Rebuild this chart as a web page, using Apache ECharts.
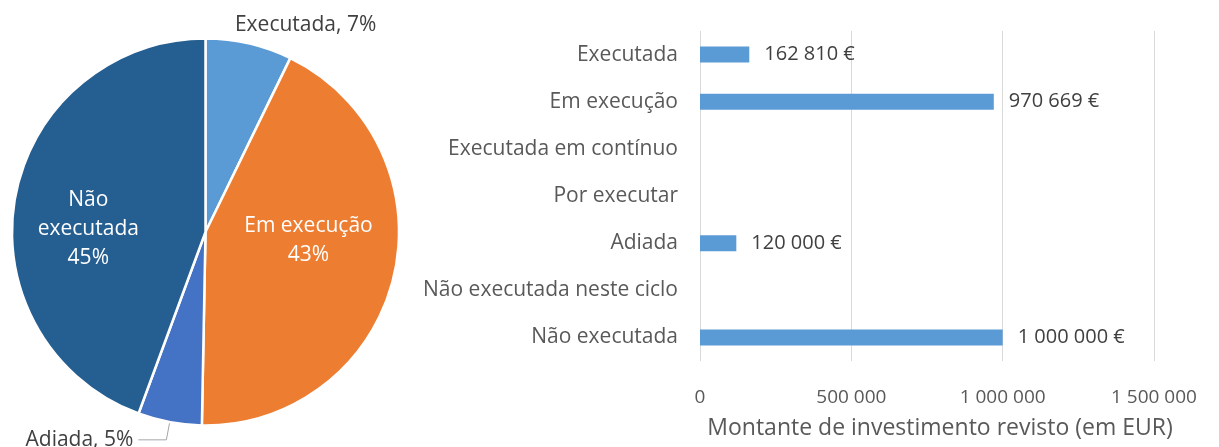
<!DOCTYPE html>
<html>
<head>
<meta charset="utf-8">
<script src="https://cdn.jsdelivr.net/npm/echarts@6/dist/echarts.min.js"></script>
<style>
  html, body { margin: 0; padding: 0; background: #fff; }
  #chart { width: 1219px; height: 447px; }
</style>
</head>
<body>
<div id="chart"></div>
<script>
  // dados
  var categories = ['Executada', 'Em execução', 'Executada em contínuo', 'Por executar', 'Adiada', 'Não executada neste ciclo', 'Não executada'];
  var amounts = [162810, 970669, 0, 0, 120000, 0, 1000000];
  var xTicks = [0, 500000, 1000000, 1500000];
  var pieColors = {
    'Executada': '#5B9BD5',
    'Em execução': '#ED7D31',
    'Adiada': '#4472C4',
    'Não executada': '#255E91'
  };

  // separador de milhares
  function fmt (v) {
    return String(v).replace(/\B(?=(\d{3})+(?!\d))/g, ' ');
  }

  var FONT = 'Open Sans';
  var chart = echarts.init(document.getElementById('chart'));

  // fatias do gráfico circular (só categorias com montante)
  var pieData = [];
  for (var i = 0; i < categories.length; i++) {
    if (amounts[i] > 0) {
      pieData.push({ name: categories[i], value: amounts[i], itemStyle: { color: pieColors[categories[i]] } });
    }
  }
  pieData.forEach(function (d) {
    if (d.name === 'Executada') {
      d.label = { position: 'outside', formatter: '{b}, {d}%\n', color: '#404040' };
      d.labelLine = { show: false, length: 4, length2: -20 };
    } else if (d.name === 'Adiada') {
      d.label = { position: 'outside', formatter: '{b}, {d}%', color: '#404040' };
      d.labelLine = { show: true, length: 18, length2: 28, lineStyle: { color: '#a6a6a6', width: 1 } };
    } else if (d.name === 'Em execução') {
      d.label = { position: 'inside', formatter: '{b}\n{d}%\n', color: '#fff', padding: [0, 0, 0, 12] };
    } else {
      d.label = { position: 'inside', formatter: '\nNão\nexecutada\n{d}%', color: '#fff', padding: [0, 38, 0, 0] };
    }
  });

  var option = {
    animation: false,
    textStyle: { fontFamily: FONT },
    grid: { left: 700, right: 65, top: 31, bottom: 86 },
    xAxis: {
      type: 'value',
      min: xTicks[0],
      max: xTicks[xTicks.length - 1],
      interval: xTicks[1] - xTicks[0],
      axisLine: { show: false },
      axisTick: { show: false },
      splitLine: { lineStyle: { color: '#d9d9d9', width: 1 } },
      axisLabel: { color: '#595959', fontSize: 19, margin: 27, fontFamily: FONT, formatter: fmt },
      name: 'Montante de investimento revisto (em EUR)',
      nameLocation: 'middle',
      nameGap: 56,
      nameTextStyle: { color: '#595959', fontSize: 23, fontFamily: FONT, padding: [0, 0, 0, 26] }
    },
    yAxis: {
      type: 'category',
      inverse: true,
      data: categories,
      axisLine: { show: false },
      axisTick: { show: false },
      axisLabel: { color: '#595959', fontSize: 21, margin: 22, fontFamily: FONT }
    },
    series: [
      {
        type: 'bar',
        data: amounts,
        barWidth: 16,
        itemStyle: { color: '#5B9BD5' },
        label: {
          show: true,
          position: 'right',
          distance: 15,
          color: '#404040',
          fontSize: 20,
          fontFamily: FONT,
          formatter: function (p) { return p.value > 0 ? fmt(p.value) + ' €' : ''; }
        }
      },
      {
        type: 'pie',
        center: [205.5, 232],
        radius: 193.5,
        startAngle: 90,
        clockwise: true,
        percentPrecision: 0,
        avoidLabelOverlap: false,
        itemStyle: { borderColor: '#fff', borderWidth: 2.5 },
        label: { fontSize: 21, lineHeight: 29, fontFamily: FONT },
        data: pieData
      }
    ]
  };

  chart.setOption(option);
</script>
</body>
</html>
